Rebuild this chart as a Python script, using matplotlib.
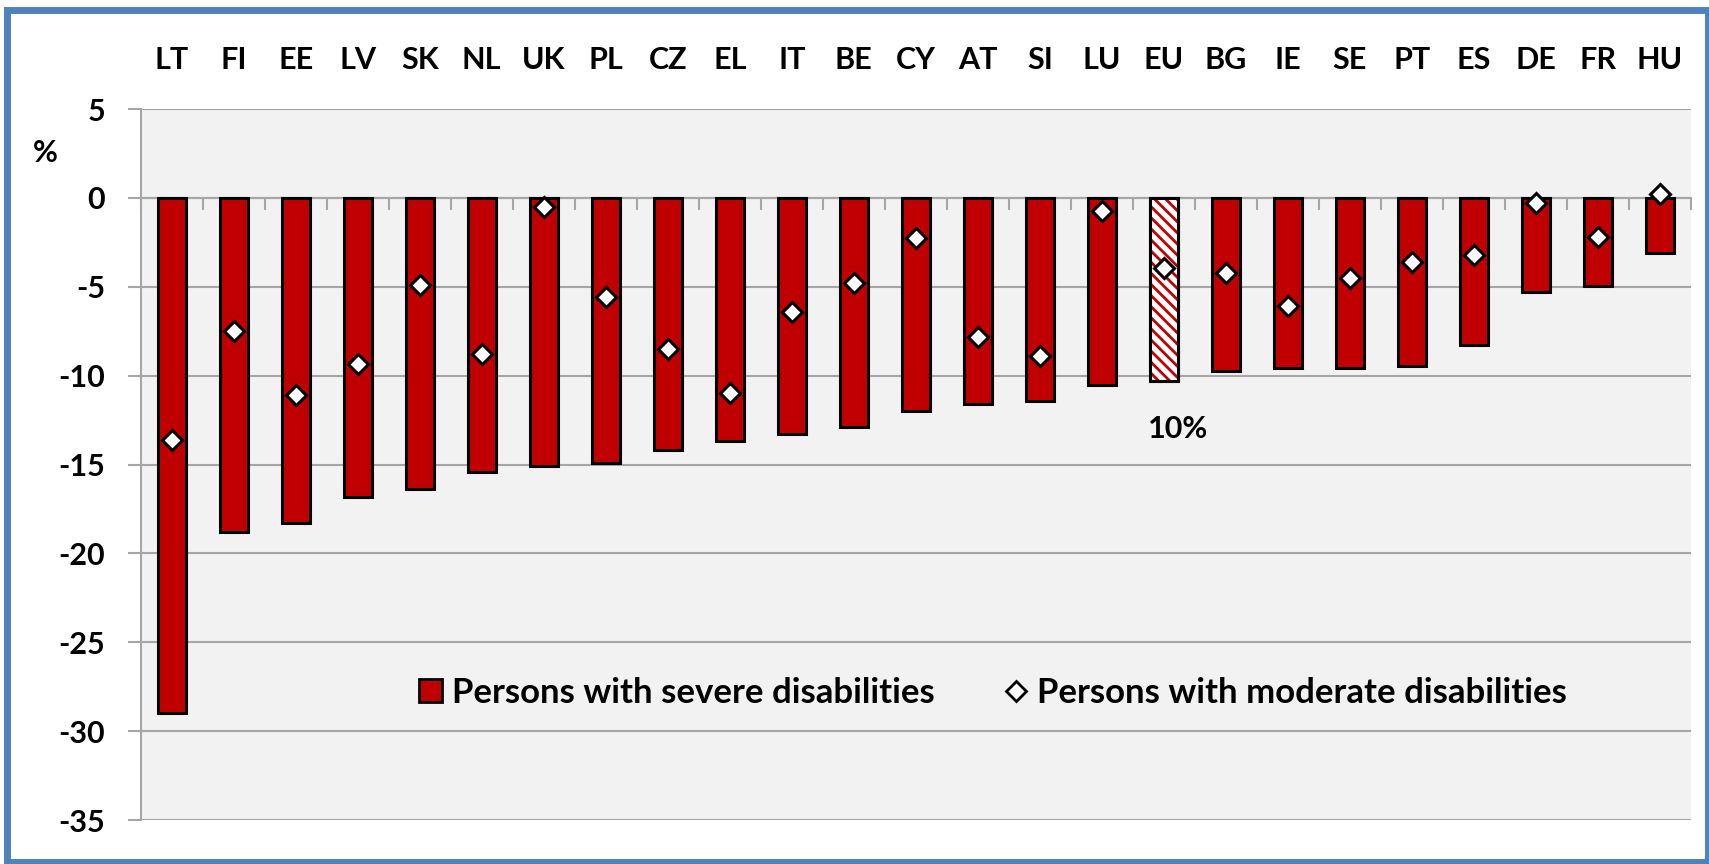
import numpy as np
import matplotlib.pyplot as plt
from matplotlib.patches import Patch, Rectangle
from matplotlib.lines import Line2D

# data (% change)
countries = ['LT', 'FI', 'EE', 'LV', 'SK', 'NL', 'UK', 'PL', 'CZ', 'EL', 'IT', 'BE', 'CY',
             'AT', 'SI', 'LU', 'EU', 'BG', 'IE', 'SE', 'PT', 'ES', 'DE', 'FR', 'HU']
severe = [-29.0, -18.8, -18.3, -16.8, -16.35, -15.4, -15.1, -14.9, -14.2, -13.7, -13.3, -12.9, -12.0,
          -11.6, -11.45, -10.5, -10.3, -9.75, -9.55, -9.55, -9.45, -8.25, -5.3, -4.95, -3.1]
moderate = [-13.6, -7.5, -11.1, -9.35, -4.9, -8.8, -0.5, -5.6, -8.5, -11.0, -6.4, -4.8, -2.25,
            -7.8, -8.9, -0.75, -3.95, -4.2, -6.1, -4.5, -3.6, -3.2, -0.3, -2.2, 0.2]
highlight = 'EU'
note = '10%'
labels = ['Persons with severe disabilities', 'Persons with moderate disabilities']

red = '#C00000'
grey = '#A6A6A6'

plt.rcParams['font.family'] = ['Lato', 'DejaVu Sans']
plt.rcParams['font.weight'] = 'bold'
plt.rcParams['axes.unicode_minus'] = False
plt.rcParams['hatch.linewidth'] = 2.0

fig = plt.figure(figsize=(17.09, 8.64), dpi=100)
ax = fig.add_axes([0.0823, 0.0509, 0.9072, 0.8229])
ax.set_facecolor('#F2F2F2')

x = np.arange(len(countries))
hi = countries.index(highlight)
colors = ['white' if c == highlight else red for c in countries]

ax.bar(x, severe, width=0.45, color=colors, edgecolor='black', linewidth=2.2, zorder=3)
# hatched EU bar
ax.bar(x[hi], severe[hi], width=0.45, color='white', edgecolor=red, hatch='\\\\\\',
       linewidth=0, zorder=3)
ax.bar(x[hi], severe[hi], width=0.45, color='none', edgecolor='black', linewidth=2.2, zorder=3.5)

ax.plot(x, moderate, ls='none', marker='D', ms=10, mfc='white', mec='black', mew=2.2, zorder=4)

ax.text(hi + 0.23, -13.0, note, ha='center', va='center', fontsize=22, fontweight='bold')

ax.set_xlim(-0.5, len(countries) - 0.5)
ax.set_ylim(-35, 5)
ax.set_yticks(np.arange(-35, 6, 5))
ax.set_axisbelow(True)
ax.grid(axis='y', color=grey, lw=1.5)

ax.spines['top'].set_visible(False)
ax.spines['right'].set_visible(False)
ax.spines['left'].set_color(grey)
ax.spines['left'].set_linewidth(1.5)
ax.spines['bottom'].set_position(('data', 0))
ax.spines['bottom'].set_color(grey)
ax.spines['bottom'].set_linewidth(1.5)

ax.set_xticks(x)
ax.set_xticklabels(countries)
ax.set_xticks(np.arange(len(countries) + 1) - 0.5, minor=True)
ax.tick_params(axis='x', which='major', bottom=False, top=False, labelbottom=False,
               labeltop=True, length=0, pad=25, labelsize=22)
ax.tick_params(axis='x', which='minor', bottom=True, top=False, direction='out',
               length=8.6, width=1.5, color=grey)
ax.tick_params(axis='y', length=9.4, width=1.5, color=grey, pad=16, labelsize=22)

fig.text(45 / 1709, 1 - 153 / 864, '%', ha='center', va='center', fontsize=22, fontweight='bold')

handles = [Patch(facecolor=red, edgecolor='black', linewidth=2),
           Line2D([], [], ls='none', marker='D', ms=10, mfc='white', mec='black', mew=2)]
ax.legend(handles, labels, loc='center', bbox_to_anchor=(0.5498, 0.1786), ncol=2,
          frameon=False, fontsize=25, handlelength=0.65, handleheight=0.65,
          handletextpad=0.3, columnspacing=2.0)

# blue frame around the whole chart
fig.patches.append(Rectangle((6.5 / 1709, 2 / 864), (1708 - 6.5) / 1709, (854.5 - 2) / 864,
                             transform=fig.transFigure, fill=False, edgecolor='#4F81BD',
                             linewidth=5, zorder=10))

fig.savefig('out.png', dpi=100)
